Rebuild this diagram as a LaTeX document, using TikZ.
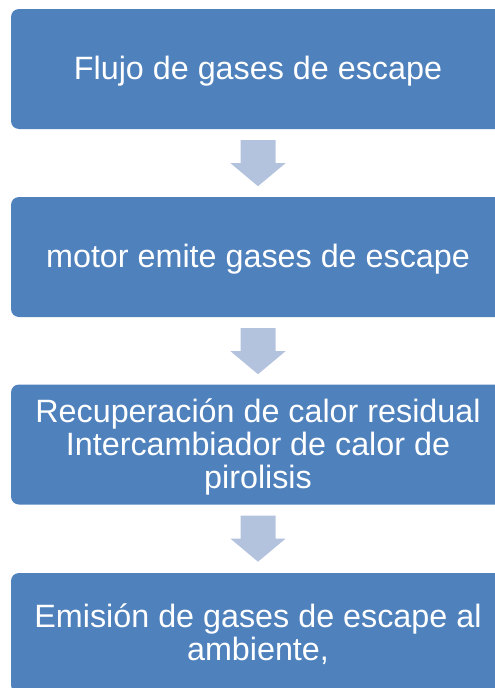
\documentclass[tikz,border=0pt]{standalone}
\usepackage{fontspec}
\setmainfont{Liberation Sans}
\usetikzlibrary{calc}
\definecolor{boxblue}{HTML}{4F81BD}
\definecolor{arrowblue}{HTML}{B3C3DE}
\tikzset{
  flowbox/.style={fill=boxblue, draw=none, rounded corners=8pt,
    minimum width=494pt, minimum height=120pt, inner sep=0pt},
  boxtext/.style={text=white, align=center, inner sep=0pt,
    font=\fontsize{32.3pt}{33pt}\selectfont},
  downarrow/.pic={\fill[arrowblue] (-17.5,0) -- (17.5,0) -- (17.5,23) -- (27.5,23)
      -- (0,46) -- (-27.5,23) -- (-17.5,23) -- cycle;}
}
\begin{document}
\begin{tikzpicture}[x=1pt,y=-1pt]
\useasboundingbox (0,0) rectangle (495,688);
\clip (0,0) rectangle (495,688);
\node[flowbox] (b1) at (258,69) {};
\node[flowbox] (b2) at (258,257) {};
\node[flowbox] (b3) at (258,444.5) {};
\node[flowbox] (b4) at (258,633) {};
\node[boxtext] (t1) at ($(b1.center)+(0,2.5)$) {Flujo de gases de escape};
\node[boxtext] (t2) at ($(b2.center)+(0,2.5)$) {motor emite gases de escape};
\node[boxtext] (t3) at ($(b3.center)+(0,2)$) {Recuperación de calor residual\\Intercambiador de calor de\\pirolisis};
\node[boxtext] (t4) at ($(b4.center)+(0,1)$) {Emisión de gases de escape al\\ambiente,};
\pic at ($(b1.south)+(0,11)$) {downarrow};
\pic at ($(b2.south)+(0,11)$) {downarrow};
\pic at ($(b3.south)+(0,11)$) {downarrow};
\end{tikzpicture}
\end{document}
